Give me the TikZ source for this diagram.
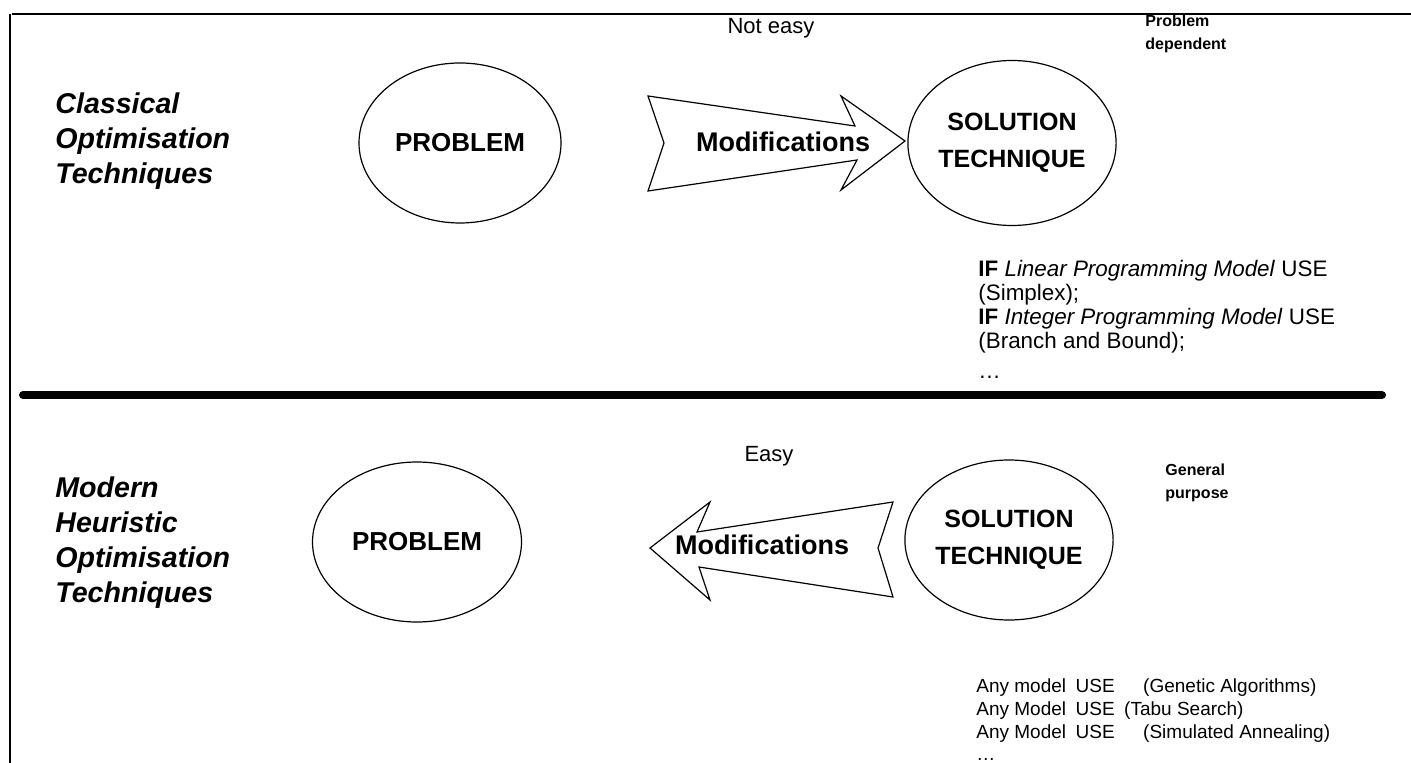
\documentclass[tikz,border=0pt]{standalone}
\usepackage{fontspec}
\setmainfont{Liberation Sans}
\usetikzlibrary{shapes.geometric}

\tikzset{
  blob/.style={ellipse, draw, line width=0.6pt, inner sep=0pt, align=center},
  probtext/.style={font=\bfseries\fontsize{13}{15}\selectfont},
  soltext/.style={font=\bfseries\fontsize{12.5}{18.5}\selectfont},
  sidelabel/.style={anchor=west, align=left, inner sep=0pt,
    font=\bfseries\itshape\fontsize{14.3}{17.5}\selectfont},
  blockarrow/.style={draw, line width=0.6pt, fill=white, line join=miter},
  modlabel/.style={font=\bfseries\fontsize{13.5}{15}\selectfont, inner sep=0pt},
  easelabel/.style={font=\fontsize{11}{13}\selectfont, inner sep=0pt},
  notelabel/.style={anchor=north west, align=left, inner sep=0pt,
    font=\bfseries\fontsize{8}{11.5}\selectfont},
  listtext/.style={anchor=north west, align=left, inner sep=0pt,
    font=\fontsize{11.2}{12}\selectfont},
  anylist/.style={anchor=north west, align=left, inner sep=0pt,
    font=\fontsize{9.5}{11.7}\selectfont},
}

\begin{document}
\begin{tikzpicture}[x=0.5pt,y=-0.5pt]
\useasboundingbox (0,0) rectangle (1411,763);

% frame and divider
\draw[line width=0.9pt] (12,14) -- (1411,14);
\draw[line width=0.9pt] (10,14) -- (10,763);
\draw[line width=4pt, line cap=round] (23,395) -- (1382,395);

% ---- classical techniques ----
\node[sidelabel] (cl) at (55,141) {Classical\\Optimisation\\Techniques};
\node[blob, probtext, minimum width=101pt, minimum height=80pt] (p1) at (460,143) {PROBLEM};
\node[blob, soltext, minimum width=103.5pt, minimum height=82.5pt] (s1) at (1012,143) {SOLUTION\\TECHNIQUE};

\draw[blockarrow] (648,96) -- (855,126) -- (841,96) -- (905,141) -- (841,190)
  -- (857,160) -- (648,191) -- (664,143) -- cycle;
\node[modlabel] (m1) at (783,142) {Modifications};
\node[easelabel] (ne) at (771,28) {Not easy};
\node[notelabel] (pd) at (1145,15) {Problem\\dependent};

\node[listtext] (if) at (978,260) {%
  \textbf{IF} \textit{Linear Programming Model} USE\\
  (Simplex);\\
  \textbf{IF} \textit{Integer Programming Model} USE\\
  (Branch and Bound);\\[3pt]
  \dots};

% ---- modern heuristic techniques ----
\node[sidelabel] (mh) at (55,543) {Modern\\Heuristic\\Optimisation\\Techniques};
\node[blob, probtext, minimum width=104.5pt, minimum height=80pt] (p2) at (417,542) {PROBLEM};
\node[blob, soltext, minimum width=101.5pt, minimum height=80pt] (s2) at (1009,540) {SOLUTION\\TECHNIQUE};

\draw[blockarrow] (650,548) -- (710,502) -- (697,532) -- (893,502) -- (878,548)
  -- (893,597) -- (699,567) -- (710,600) -- cycle;
\node[modlabel] (m2) at (762,545) {Modifications};
\node[easelabel] (ey) at (769,456) {Easy};
\node[notelabel] (gp) at (1165,464) {General\\purpose};

\node[anylist] (any) at (976,678) {%
  Any model\enspace USE\quad\enspace(Genetic Algorithms)\\
  Any Model\enspace USE\enspace(Tabu Search)\\
  Any Model\enspace USE\quad\enspace(Simulated Annealing)\\[-1pt]
  \dots};
\end{tikzpicture}
\end{document}
